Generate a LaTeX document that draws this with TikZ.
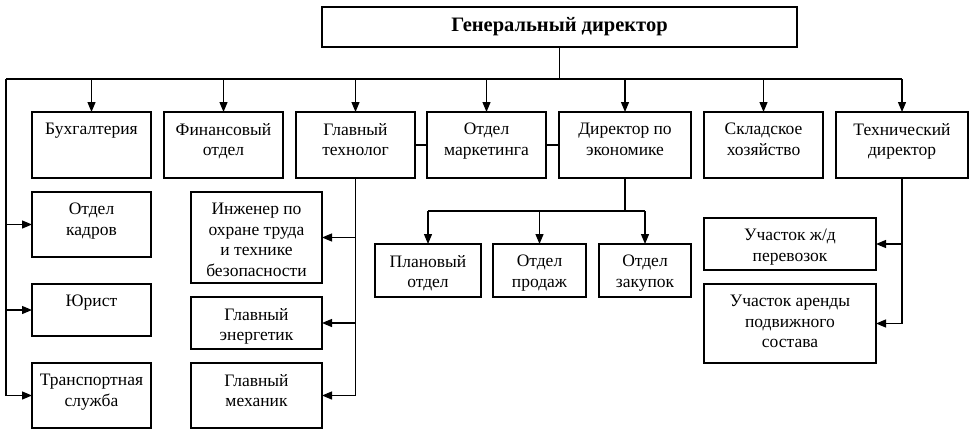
\documentclass[tikz,border=0pt]{standalone}
\usepackage{fontspec}
\setmainfont{Liberation Serif}
\usetikzlibrary{arrows.meta,fit}
\begin{document}
\begin{tikzpicture}[x=1pt,y=-1pt,
  box/.style={draw,line width=1.2pt,inner sep=0pt,outer sep=0pt},
  txt/.style={align=center,inner sep=0pt,anchor=north,font=\fontsize{17.5}{20.5}\selectfont},
  ln/.style={line width=1.2pt},
  arr/.style={line width=1.2pt,-{Triangle[length=10pt,width=8pt]}}]
\useasboundingbox (0,0) rectangle (974,436);
\newcommand\mkbox[6]{%
  \node[box,fit={(#2,#3) (#4,#5)}] (#1) {};
  \node[txt] at ([yshift=-11pt]#1.north) {#6};}
% general director
\node[box,fit={(322,7) (797,47)}] (gd) {};
\node[font=\fontsize{20.5}{23}\selectfont\bfseries,inner sep=0pt] at (gd.center) {Генеральный директор};
% top row
\mkbox{buh}{32}{112}{151}{178}{Бухгалтерия}
\mkbox{fin}{164}{112}{283}{178}{Финансовый\\отдел}
\mkbox{gt}{296}{112}{415}{178}{Главный\\технолог}
\mkbox{mk}{427}{112}{546}{178}{Отдел\\маркетинга}
\mkbox{de}{559}{112}{691}{178}{Директор по\\экономике}
\mkbox{sk}{704}{112}{823}{178}{Складское\\хозяйство}
\mkbox{td}{836}{112}{968}{178}{Технический\\директор}
% left column
\mkbox{kad}{32}{192}{151}{257}{Отдел\\кадров}
\mkbox{yur}{32}{284}{151}{336}{Юрист}
\mkbox{tr}{32}{363}{151}{428}{Транспортная\\служба}
% technologist subs
\mkbox{ing}{191}{192}{322}{283}{Инженер по\\охране труда\\и технике\\безопасности}
\mkbox{en}{191}{297}{322}{349}{Главный\\энергетик}
\mkbox{meh}{191}{363}{322}{428}{Главный\\механик}
% economics subs
\mkbox{pl}{375}{244}{481}{297}{Плановый\\отдел}
\mkbox{pr}{493}{244}{586}{297}{Отдел\\продаж}
\mkbox{zak}{599}{244}{691}{297}{Отдел\\закупок}
% technical director subs
\mkbox{u1}{704}{218}{876}{270}{Участок ж/д\\перевозок}
\mkbox{u2}{704}{284}{876}{363}{Участок аренды\\подвижного\\состава}
% bus
\coordinate (j0) at (gd.south |- 0,79);
\coordinate (busL) at (6,79);
\coordinate (busR) at (td.north |- 0,79);
\draw[ln] (gd.south) -- (j0);
\draw[ln] (busL) -- (busR);
\foreach \n in {buh,fin,gt,mk,de,sk,td}{
  \draw[arr] (\n.north |- busL) -- (\n.north);}
% left bus
\draw[arr] (busL) -- (busL |- tr.west) -- (tr.west);
\draw[arr] (busL |- kad.west) -- (kad.west);
\draw[arr] (busL |- yur.west) -- (yur.west);
% side links
\draw[ln] (gt.east) -- (mk.west);
\draw[ln] (mk.east) -- (de.west);
% technologist
\draw[arr] (gt.south) -- (gt.south |- meh.east) -- (meh.east);
\draw[arr] (gt.south |- ing.east) -- (ing.east);
\draw[arr] (gt.south |- en.east) -- (en.east);
% economics
\coordinate (e0) at (de.south |- 0,211);
\draw[ln] (de.south) -- (e0);
\draw[ln] (pl.north |- e0) -- (zak.north |- e0);
\foreach \n in {pl,pr,zak}{
  \draw[arr] (\n.north |- e0) -- (\n.north);}
% technical director
\draw[arr] (td.south) -- (td.south |- u2.east) -- (u2.east);
\draw[arr] (td.south |- u1.east) -- (u1.east);
\end{tikzpicture}
\end{document}
